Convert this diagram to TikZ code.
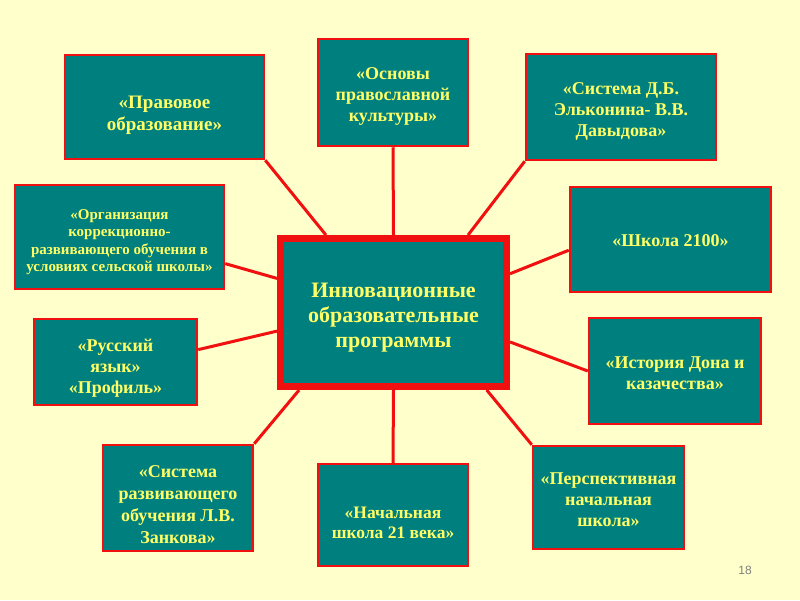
\documentclass[tikz,border=0pt]{standalone}
\usepackage{fontspec}
\setmainfont{Liberation Serif}
\newfontfamily\pgnum{Liberation Sans}
\usetikzlibrary{calc}
\definecolor{bgyel}{HTML}{FFFFCC}
\definecolor{boxteal}{HTML}{007F7F}
\definecolor{txtyel}{HTML}{FFFF66}
\definecolor{linered}{HTML}{F01010}
\tikzset{
  prog/.style={draw=linered, line width=2.5pt, fill=boxteal, inner sep=0pt},
  hub/.style={prog, line width=7pt},
  progtext/.style={text=txtyel, align=center, inner sep=0pt,
    font=\fontsize{18}{21}\selectfont\bfseries},
  hubtext/.style={progtext, font=\fontsize{22}{25}\selectfont\bfseries},
  link/.style={draw=linered, line width=3pt}
}
\begin{document}
\begin{tikzpicture}[x=1pt,y=-1pt]
\fill[bgyel] (0,0) rectangle (800,600);
\useasboundingbox (0,0) rectangle (800,600);
% boxes
\node[hub, minimum width=226pt, minimum height=148pt] (C) at (393.5,312.5) {};
\node[prog, minimum width=199pt, minimum height=104pt] (B1) at (164.5,107) {};
\node[prog, minimum width=150pt, minimum height=107pt] (B2) at (393,92.5) {};
\node[prog, minimum width=190pt, minimum height=106pt] (B3) at (621,107) {};
\node[prog, minimum width=209pt, minimum height=104pt] (B4) at (119.5,237) {};
\node[prog, minimum width=201pt, minimum height=105pt] (B5) at (670.5,239.5) {};
\node[prog, minimum width=163pt, minimum height=86pt] (B6) at (115.5,362) {};
\node[prog, minimum width=172pt, minimum height=106pt] (B7) at (675,371) {};
\node[prog, minimum width=150pt, minimum height=106pt] (B8) at (178,498) {};
\node[prog, minimum width=150pt, minimum height=102pt] (B9) at (393,515) {};
\node[prog, minimum width=151pt, minimum height=103pt] (B10) at (608.5,497.5) {};
% texts
\node[hubtext] (TC) at ($(C.center)+(0,5)$) {Инновационные\\образовательные\\программы};
\node[progtext, font=\fontsize{19}{22}\selectfont\bfseries] (T1) at ($(B1.center)+(0,8)$) {«Правовое\\образование»};
\node[progtext] (T2) at ($(B2.center)+(0,4)$) {«Основы\\православной\\культуры»};
\node[progtext] (T3) at ($(B3.center)+(0,4)$) {«Система Д.Б.\\Эльконина- В.В.\\Давыдова»};
\node[progtext, font=\fontsize{15}{17.5}\selectfont\bfseries] (T4) at ($(B4.center)+(0,5)$)
  {«Организация\\коррекционно-\\развивающего обучения в\\условиях сельской школы»};
\node[progtext] (T5) at ($(B5.center)+(0,1)$) {«Школа 2100»};
\node[progtext] (T6) at ($(B6.center)+(0,6)$) {«Русский\\язык»\\«Профиль»};
\node[progtext] (T7) at ($(B7.center)+(0,2)$) {«История Дона и\\казачества»};
\node[progtext, font=\fontsize{18}{22}\selectfont\bfseries] (T8) at ($(B8.center)+(0,7)$) {«Система\\развивающего\\обучения Л.В.\\Занкова»};
\node[progtext, font=\fontsize{17.5}{20}\selectfont\bfseries] (T9) at ($(B9.center)+(0,8)$) {«Начальная\\школа 21 века»};
\node[progtext] (T10) at ($(B10.center)+(0,2)$) {«Перспективная\\начальная\\школа»};
% connectors
\draw[link] (B1.south east) -- ($(C.north west)!0.21!(C.north east)$);
\draw[link] (B2.south) -- (C.north);
\draw[link] (B3.south west) -- ($(C.north west)!0.82!(C.north east)$);
\draw[link] ($(B5.north west)!0.6!(B5.south west)$) -- ($(C.north east)!0.25!(C.south east)$);
\draw[link] (B7.west) -- ($(C.north east)!0.69!(C.south east)$);
\draw[link] (B10.north west) -- ($(C.south west)!0.9!(C.south east)$);
\draw[link] (B9.north) -- (C.south);
\draw[link] (B8.north east) -- ($(C.south west)!0.095!(C.south east)$);
\draw[link] ($(B6.north east)!0.36!(B6.south east)$) -- ($(C.north west)!0.62!(C.south west)$);
\draw[link] ($(B4.north east)!0.75!(B4.south east)$) -- ($(C.north west)!0.28!(C.south west)$);
\node[text=gray, font=\pgnum\fontsize{12}{14}\selectfont] (pg) at (745,570) {18};
\end{tikzpicture}
\end{document}
